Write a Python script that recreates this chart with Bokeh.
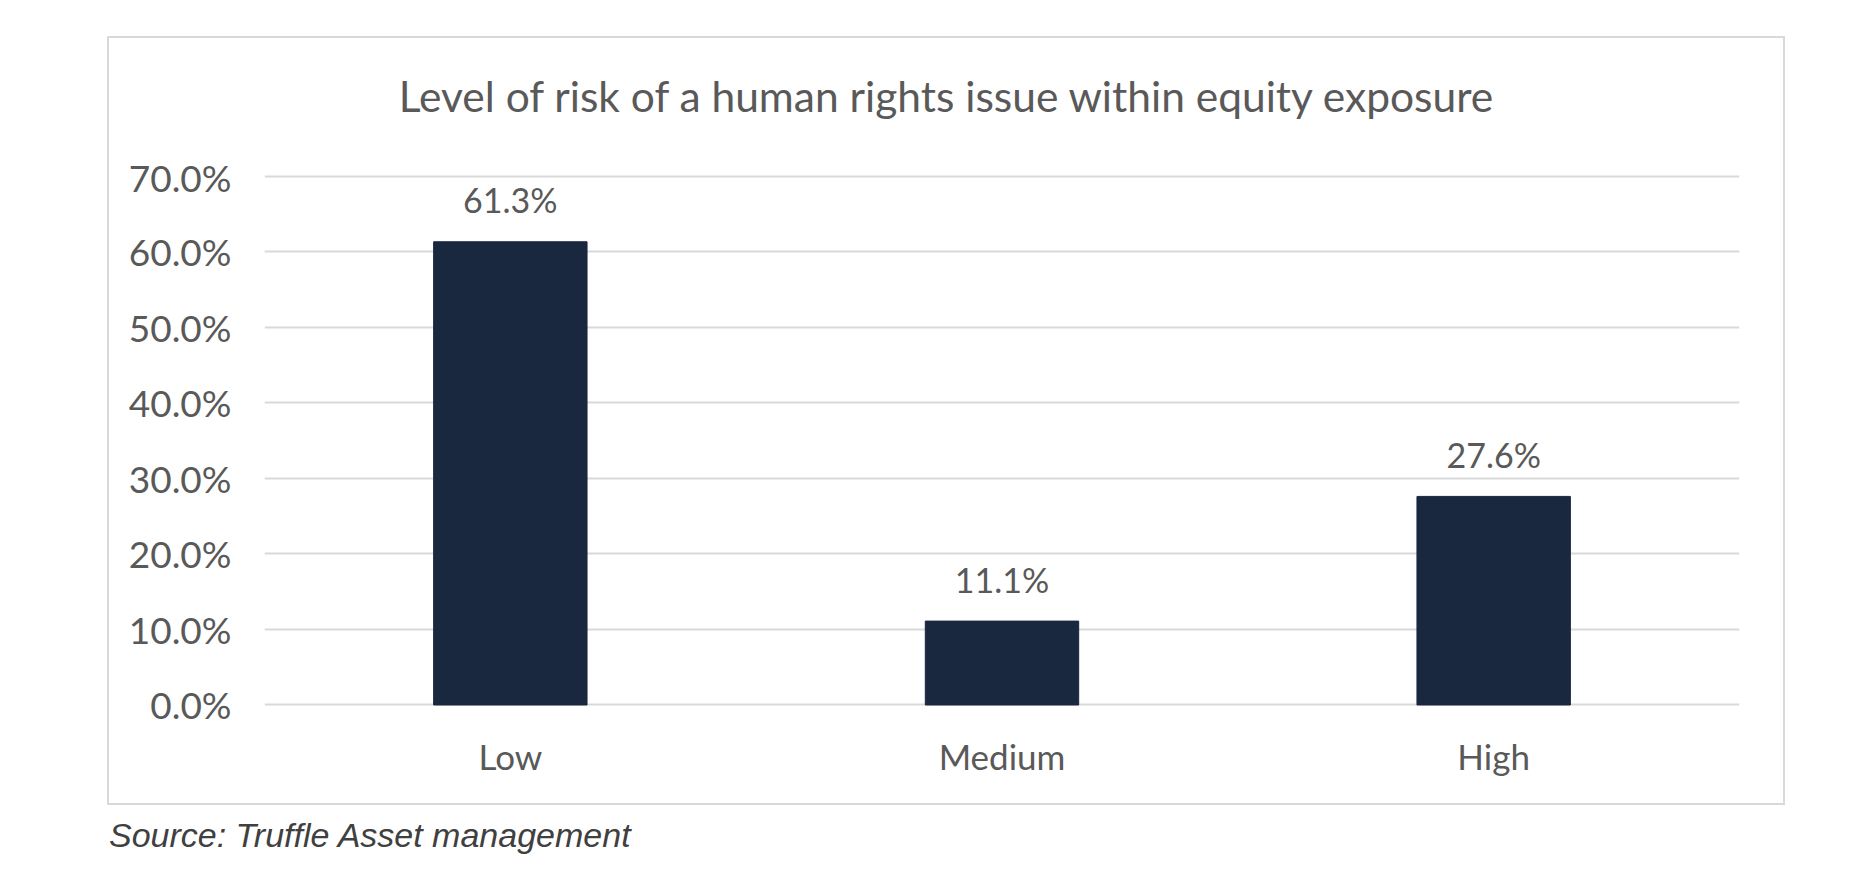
from bokeh.plotting import figure
from bokeh.layouts import column
from bokeh.models import Div, PrintfTickFormatter, FixedTicker, Range1d
from bokeh.core.properties import value
from bokeh.embed import file_html
from bokeh.resources import INLINE

# data
categories = ["Low", "Medium", "High"]
shares = [61.3, 11.1, 27.6]
share_labels = ["%.1f%%" % s for s in shares]
y_ticks = [0, 10, 20, 30, 40, 50, 60, 70]

TEXT = "#595959"
BAR = "#19273f"
GRID = "#d9d9d9"
FONT = "Lato"

title = Div(
    text="Level of risk of a human rights issue within equity exposure",
    width=1674,
    height=116,
    margin=0,
    styles={
        "font-family": FONT,
        "font-size": "42.5px",
        "line-height": "116px",
        "text-align": "center",
        "color": TEXT,
        "white-space": "nowrap",
    },
)

p = figure(
    x_range=categories,
    y_range=Range1d(-0.2, 70.2),
    width=1674,
    height=649,
    output_backend="svg",
    toolbar_location=None,
    min_border_left=155,
    min_border_right=44,
    min_border_top=20,
    min_border_bottom=97,
)
p.margin = 0
p.outline_line_color = None

p.vbar(x=categories, top=shares, width=0.312, fill_color=BAR, line_color=BAR)

p.text(
    x=categories,
    y=shares,
    text=share_labels,
    y_offset=-42,
    text_align="center",
    text_baseline="middle",
    text_font=value(FONT),
    text_font_size="34px",
    text_color=TEXT,
)

p.xgrid.grid_line_color = None
p.ygrid.grid_line_color = GRID
p.ygrid.grid_line_width = 2
p.ygrid.ticker = FixedTicker(ticks=y_ticks)
p.x_range.range_padding = 0

p.yaxis.ticker = FixedTicker(ticks=y_ticks)
p.yaxis.formatter = PrintfTickFormatter(format="%.1f%%")
p.yaxis.major_label_standoff = 27

p.xaxis.major_label_standoff = 22

for ax in (p.xaxis, p.yaxis):
    ax.axis_line_color = None
    ax.major_tick_line_color = None
    ax.minor_tick_line_color = None
    ax.major_label_text_font = FONT
    ax.major_label_text_color = TEXT
p.yaxis.major_label_text_font_size = "37px"
p.xaxis.major_label_text_font_size = "35px"

box = column(
    title,
    p,
    margin=(36, 0, 0, 107),
    spacing=0,
    styles={"border": "2px solid #d9d9d9"},
)

source = Div(
    text="Source: Truffle Asset management",
    width=900,
    margin=(10, 0, 0, 109),
    styles={
        "font-family": "Liberation Sans, Arial, sans-serif",
        "font-style": "italic",
        "font-size": "34px",
        "line-height": "40px",
        "color": "#404040",
    },
)

layout = column(box, source)
open("out.html", "w").write(file_html(layout, INLINE))
